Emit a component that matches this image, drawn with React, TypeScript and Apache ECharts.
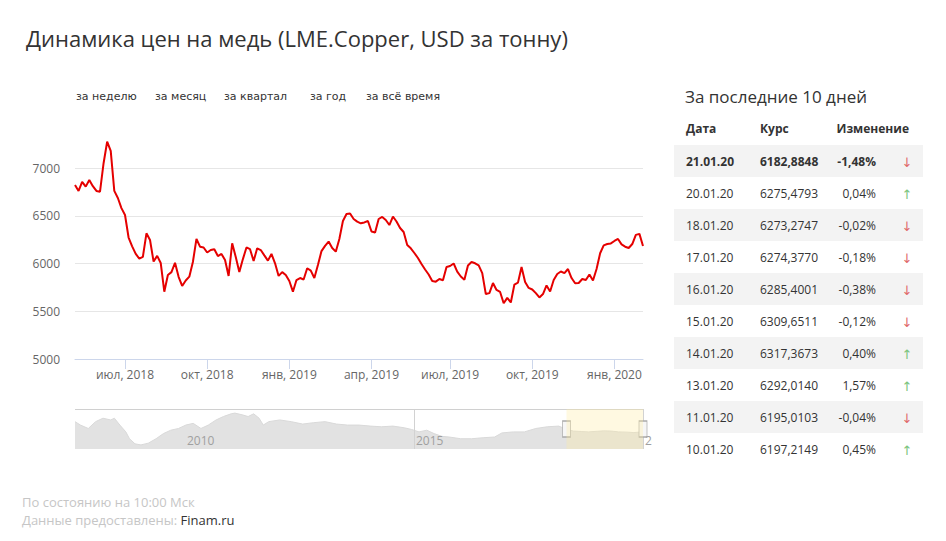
import React, { useEffect, useRef } from 'react';
import * as echarts from 'echarts';

const TITLE = 'Динамика цен на медь (LME.Copper, USD за тонну)';
const PERIOD_BUTTONS = ['за неделю', 'за месяц', 'за квартал', 'за год', 'за всё время'];
const MONTHS_RU = ['янв', 'фев', 'мар', 'апр', 'май', 'июн', 'июл', 'авг', 'сен', 'окт', 'ноя', 'дек'];
const FOOTER_1 = 'По состоянию на 10:00 Мск';
const FOOTER_2 = 'Данные предоставлены: ';
const FOOTER_SOURCE = 'Finam.ru';

// main chart: one reading every 4 days starting from START_DATE
const START_DATE = Date.UTC(2018, 4, 7);
const STEP_DAYS = 4;
const PRICES = [
  6822, 6760, 6855, 6805, 6875, 6810, 6760, 6752, 7050, 7275,
  7180, 6760, 6686, 6580, 6508, 6272, 6180, 6100, 6052, 6070,
  6316, 6246, 6020, 6080, 6005, 5705, 5880, 5910, 6008, 5860,
  5765, 5822, 5862, 6016, 6257, 6176, 6168, 6115, 6141, 6150,
  6078, 6100, 6037, 5870, 6212, 6068, 5910, 6046, 6168, 6150,
  6026, 6159, 6141, 6085, 6030, 6100, 6002, 5870, 5910, 5880,
  5817, 5705, 5827, 5848, 5832, 5950, 5925, 5848, 5984, 6130,
  6185, 6230, 6162, 6124, 6257, 6445, 6518, 6524, 6466, 6438,
  6421, 6430, 6445, 6335, 6325, 6466, 6487, 6456, 6403, 6492,
  6440, 6372, 6330, 6194, 6159, 6110, 6058, 5995, 5937, 5885,
  5817, 5810, 5838, 5825, 5964, 5974, 6000, 5914, 5864, 5830,
  5980, 6016, 6002, 5980, 5900, 5680, 5690, 5795, 5723, 5702,
  5583, 5640, 5592, 5780, 5800, 5964, 5806, 5744, 5728, 5690,
  5645, 5680, 5770, 5707, 5827, 5890, 5916, 5900, 5942, 5848,
  5793, 5796, 5838, 5827, 5885, 5822, 5942, 6107, 6190, 6204,
  6210, 6236, 6257, 6200, 6176, 6162, 6204, 6300, 6310, 6183,
];
const Y_MIN = 5000;
const Y_MAX = 7500;
const Y_STEP = 500;

// navigator (whole history)
const NAV_YEARS = [
  2007.60, 2007.72, 2007.89, 2008.05, 2008.21, 2008.38, 2008.46, 2008.58, 2008.71, 2008.79,
  2008.91, 2009.04, 2009.20, 2009.37, 2009.53, 2009.69, 2009.86, 2010.02, 2010.18, 2010.35,
  2010.51, 2010.68, 2010.84, 2011.01, 2011.09, 2011.25, 2011.38, 2011.50, 2011.62, 2011.71,
  2011.83, 2012.07, 2012.32, 2012.57, 2012.81, 2013.06, 2013.31, 2013.55, 2013.80, 2014.05,
  2014.29, 2014.54, 2014.79, 2014.95, 2015.11, 2015.28, 2015.44, 2015.61, 2015.77, 2016.02,
  2016.26, 2016.51, 2016.76, 2016.92, 2017.17, 2017.41, 2017.66, 2017.91, 2018.16, 2018.33,
  2018.48, 2018.65, 2018.81, 2019.00, 2019.14, 2019.30, 2019.47, 2019.65, 2019.80, 2020.00,
];
const NAV_VALUES = [
  8175, 7385, 6595, 8175, 8965, 8570, 8965, 7385, 5805, 4225,
  3040, 2800, 3200, 4225, 5410, 6200, 6595, 7385, 7780, 6595,
  7385, 8570, 9360, 9990, 10150, 9755, 9360, 9990, 8965, 7385,
  8175, 8570, 8175, 7620, 7935, 8175, 7620, 7385, 7385, 7150,
  6990, 7150, 6755, 6360, 5805, 6200, 5410, 4780, 4620, 4225,
  4225, 4460, 4620, 5570, 5805, 5805, 6595, 6990, 7150, 6400,
  6000, 5900, 5805, 5950, 6045, 6000, 5805, 5750, 5650, 5805,
];
const NAV_TICKS = [2010, 2015, 2020];
const NAV_MIN = 1850;
const NAV_MAX = 11100;
const NAV_WINDOW = [2018.33, 2020.0];

// table
const TABLE_TITLE = 'За последние 10 дней';
const TABLE_HEAD = ['Дата', 'Курс', 'Изменение'];
const TABLE_DATES = ['21.01.20', '20.01.20', '18.01.20', '17.01.20', '16.01.20', '15.01.20', '14.01.20', '13.01.20', '11.01.20', '10.01.20'];
const TABLE_RATES = ['6182,8848', '6275,4793', '6273,2747', '6274,3770', '6285,4001', '6309,6511', '6317,3673', '6292,0140', '6195,0103', '6197,2149'];
const TABLE_CHANGES = [-1.48, 0.04, -0.02, -0.18, -0.38, -0.12, 0.40, 1.57, -0.04, 0.45];

const FONT = '"Open Sans", "Noto Sans", sans-serif';

const dates = PRICES.map((_, i) => new Date(START_DATE + i * STEP_DAYS * 86400000).toISOString().slice(0, 10));
const monthOf = (d: string) => Number(d.slice(5, 7)) - 1;
const isQuarterStart = (index: number) => {
  if (index === 0) return false;
  const m = monthOf(dates[index]);
  return m !== monthOf(dates[index - 1]) && m % 3 === 0;
};
const fmtChange = (v: number) => (v < 0 ? '-' : '') + Math.abs(v).toFixed(2).replace('.', ',') + '%';

export default function App() {
  const chartRef = useRef<HTMLDivElement>(null);
  const tableRef = useRef<HTMLDivElement>(null);

  useEffect(() => {
    const chart = echarts.init(chartRef.current!, undefined, { renderer: 'svg' });
    const buttonX = [76, 155, 224, 310, 366];
    chart.setOption({
      animation: false,
      backgroundColor: '#fff',
      textStyle: { fontFamily: FONT },
      title: {
        text: TITLE,
        left: 21,
        top: 22,
        textStyle: { fontSize: 22, fontWeight: 'normal', color: '#333', fontFamily: FONT },
      },
      graphic: [
        ...PERIOD_BUTTONS.map((t, i) => ({
          type: 'text',
          x: buttonX[i],
          y: 96,
          style: { text: t, fill: '#333', font: '11px "DejaVu Sans"', verticalAlign: 'middle' },
        })),
        {
          type: 'text',
          x: 22,
          y: 502,
          style: { text: FOOTER_1, fill: '#c6c6c6', font: `13px ${FONT}`, verticalAlign: 'middle' },
        },
        {
          type: 'text',
          x: 22,
          y: 520,
          style: {
            text: `{a|${FOOTER_2}}{b|${FOOTER_SOURCE}}`,
            verticalAlign: 'middle',
            rich: {
              a: { fill: '#c6c6c6', font: `13px ${FONT}` },
              b: { fill: '#333', font: `13px ${FONT}` },
            },
          },
        },
      ],
      grid: [
        { left: 75, top: 120.25, width: 568, height: 238.75, outerBoundsMode: 'none', containLabel: false },
        { left: 75, top: 409, width: 568, height: 40, outerBoundsMode: 'none', containLabel: false },
      ],
      xAxis: [
        {
          type: 'category',
          gridIndex: 0,
          data: dates,
          boundaryGap: false,
          axisLine: { lineStyle: { color: '#ccd6eb' } },
          axisTick: { show: true, length: 10, interval: isQuarterStart, lineStyle: { color: '#ccd6eb' } },
          axisLabel: {
            interval: isQuarterStart,
            color: '#666',
            fontSize: 12,
            margin: 9,
            formatter: (v: string) => `${MONTHS_RU[monthOf(v)]}, ${v.slice(0, 4)}`,
          },
          splitLine: { show: false },
        },
        {
          type: 'value',
          gridIndex: 1,
          z: 5,
          min: NAV_YEARS[0],
          max: NAV_YEARS[NAV_YEARS.length - 1],
          axisLine: { show: false },
          axisTick: { show: false, customValues: NAV_TICKS },
          axisLabel: {
            customValues: NAV_TICKS,
            inside: true,
            align: 'left',
            margin: 3,
            padding: [0, 0, 0, 2],
            color: '#a0a0a0',
            fontSize: 12,
            hideOverlap: false,
            formatter: (v: number) => String(v),
          },
          splitLine: { show: true, showMinLine: false, lineStyle: { color: '#d2d2d2' } },
        },
      ],
      yAxis: [
        {
          type: 'value',
          gridIndex: 0,
          min: Y_MIN,
          max: Y_MAX,
          interval: Y_STEP,
          axisLine: { show: false },
          axisTick: { show: false },
          axisLabel: { color: '#666', fontSize: 12, margin: 15, showMaxLabel: false, formatter: (v: number) => String(v) },
          splitLine: { showMaxLine: false, lineStyle: { color: '#e6e6e6' } },
        },
        { type: 'value', gridIndex: 1, min: NAV_MIN, max: NAV_MAX, show: false },
      ],
      series: [
        {
          type: 'line',
          xAxisIndex: 0,
          yAxisIndex: 0,
          data: PRICES,
          showSymbol: false,
          lineStyle: { color: '#e50000', width: 2 },
          itemStyle: { color: '#e50000' },
        },
        {
          type: 'line',
          xAxisIndex: 1,
          yAxisIndex: 1,
          data: NAV_YEARS.map((y, i) => [y, NAV_VALUES[i]]),
          showSymbol: false,
          lineStyle: { color: '#d9d9d9', width: 1 },
          areaStyle: { color: '#e2e2e2', opacity: 1 },
          markLine: {
            silent: true,
            symbol: ['none', 'none'],
            label: { show: false },
            lineStyle: { color: '#d0d0d0', type: 'solid', width: 1 },
            data: [{ yAxis: NAV_MAX }],
          },
        },
        {
          type: 'line',
          xAxisIndex: 1,
          yAxisIndex: 1,
          z: 6,
          data: NAV_WINDOW.map((y) => [y, NAV_MAX]),
          showSymbol: false,
          lineStyle: { width: 0 },
          areaStyle: { color: 'rgba(255, 236, 160, 0.45)', origin: 'start' },
          markPoint: {
            silent: true,
            symbol: 'rect',
            symbolSize: [8, 16],
            label: { show: false },
            itemStyle: { color: '#f6f6f6', borderColor: '#aaa', borderWidth: 1 },
            data: NAV_WINDOW.map((y) => ({ coord: [y, (NAV_MIN + NAV_MAX) / 2] })),
          },
        },
      ],
    });

    const table = echarts.init(tableRef.current!, undefined, { renderer: 'svg' });
    const X0 = 652;
    const rowTop = 145;
    const rowH = 32;
    const elements: any[] = [
      {
        type: 'text',
        x: 685 - X0,
        y: 96,
        style: { text: TABLE_TITLE, fill: '#333', font: `17px ${FONT}`, verticalAlign: 'middle' },
      },
      { type: 'text', x: 686 - X0, y: 128, style: { text: TABLE_HEAD[0], fill: '#333', font: `bold 12px ${FONT}`, verticalAlign: 'middle' } },
      { type: 'text', x: 760 - X0, y: 128, style: { text: TABLE_HEAD[1], fill: '#333', font: `bold 12px ${FONT}`, verticalAlign: 'middle' } },
      { type: 'text', x: 909 - X0, y: 128, style: { text: TABLE_HEAD[2], fill: '#333', font: `bold 12px ${FONT}`, align: 'right', verticalAlign: 'middle' } },
    ];
    TABLE_DATES.forEach((d, k) => {
      const top = rowTop + k * rowH;
      const cy = top + rowH / 2;
      const bold = k === 0 ? 'bold ' : '';
      if (k % 2 === 0) {
        elements.push({ type: 'rect', shape: { x: 674 - X0, y: top, width: 249, height: rowH }, style: { fill: '#f3f3f3' } });
      }
      const ch = TABLE_CHANGES[k];
      elements.push(
        { type: 'text', x: 686 - X0, y: cy, style: { text: d, fill: '#333', font: `${bold}12px ${FONT}`, verticalAlign: 'middle' } },
        { type: 'text', x: 760 - X0, y: cy, style: { text: TABLE_RATES[k], fill: '#333', font: `${bold}12px ${FONT}`, verticalAlign: 'middle' } },
        { type: 'text', x: 876 - X0, y: cy, style: { text: fmtChange(ch), fill: '#333', font: `${bold}12px ${FONT}`, align: 'right', verticalAlign: 'middle' } },
        {
          type: 'text',
          x: 907 - X0,
          y: cy + 1,
          style: {
            text: ch < 0 ? '↓' : '↑',
            fill: ch < 0 ? '#e06a6a' : '#7cc47c',
            font: `13px "DejaVu Sans"`,
            align: 'center',
            verticalAlign: 'middle',
          },
        },
      );
    });
    table.setOption({ animation: false, backgroundColor: '#fff', graphic: elements });

    return () => {
      chart.dispose();
      table.dispose();
    };
  }, []);

  return (
    <div style={{ position: 'absolute', left: 0, top: 0, width: 946, height: 541, background: '#fff' }}>
      <div ref={chartRef} style={{ position: 'absolute', left: 0, top: 0, width: 652, height: 541 }} />
      <div ref={tableRef} style={{ position: 'absolute', left: 652, top: 0, width: 294, height: 541 }} />
    </div>
  );
}
